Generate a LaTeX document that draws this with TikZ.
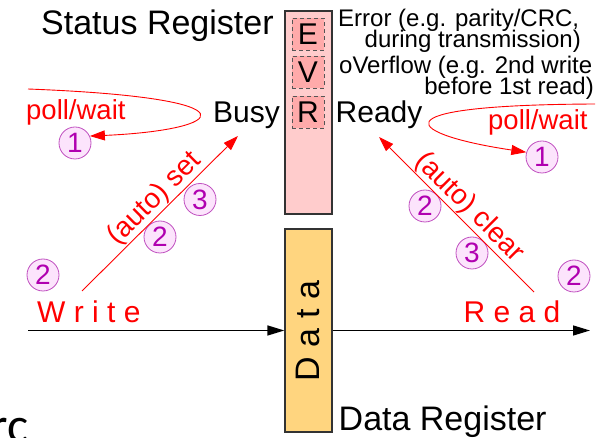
\documentclass[tikz,border=0pt]{standalone}
\usepackage{fontspec}
\setmainfont{Liberation Sans}
\newfontfamily\slidefont{Carlito}
\usetikzlibrary{arrows.meta}
\definecolor{regpink}{HTML}{FFCCCC}
\definecolor{bitpink}{HTML}{FFAAAA}
\definecolor{dataorange}{HTML}{FFD57F}
\definecolor{regline}{HTML}{333333}
\definecolor{bitline}{HTML}{555555}
\definecolor{numtext}{HTML}{B000B0}
\definecolor{numline}{HTML}{C050C0}
\definecolor{numfill}{HTML}{FCE4FC}
\begin{document}
\begin{tikzpicture}[x=1pt,y=-1pt,
  txt/.style={inner sep=0pt, font=\fontsize{30}{32}\selectfont},
  title/.style={inner sep=0pt, font=\fontsize{34}{36}\selectfont},
  note/.style={inner sep=0pt, font=\fontsize{24}{26}\selectfont},
  redtxt/.style={inner sep=0pt, text=red, font=\fontsize{27.5}{30}\selectfont},
  spaced/.style={inner sep=0pt, font=\fontsize{30}{32}\selectfont},
  lbl/.style={inner sep=0.5pt, text=red, font=\fontsize{28}{30}\selectfont},
  regbox/.style={draw=regline, line width=1.3pt, fill=regpink, minimum width=47pt, minimum height=203pt, inner sep=0pt},
  databox/.style={draw=regline, line width=1.3pt, fill=dataorange, minimum width=47pt, minimum height=203pt, inner sep=0pt},
  bitbox/.style={draw=bitline, dashed, dash pattern=on 4pt off 3pt, line width=0.9pt, fill=bitpink,
    minimum width=32pt, minimum height=32pt, inner sep=0pt, font=\fontsize{30}{32}\selectfont},
  numc/.style={circle, draw=numline, fill=numfill, text=numtext, line width=0.8pt,
    minimum size=32pt, inner sep=0pt, font=\fontsize{28}{30}\selectfont},
  redarrow/.style={draw=red, line width=0.9pt, -{Triangle[length=15pt,width=10pt]}},
  blkarrow/.style={draw=black, line width=1.4pt, -{Triangle[length=17pt,width=10pt]}}
]
\useasboundingbox (0,0) rectangle (606,438);

% registers
\node[regbox] (sreg) at (308.5,112.5) {};
\node[bitbox] (bitE) at (308,34) {E};
\node[bitbox] (bitV) at (308,72.5) {V};
\node[bitbox] (bitR) at (308,112.5) {R};
\node[databox] (dreg) at (308.5,330.5) {};
\node[inner sep=0pt, rotate=90, font=\fontsize{34}{36}\selectfont] (dtxt) at (308,331) {D a t a};

% titles and notes
\node[title, anchor=base west] (stitle) at (41,35) {Status Register};
\node[title, anchor=base west] (dtitle) at (338.5,431) {Data Register};
\node[note, anchor=base west] (err1) at (338,27) {Error (e.g. parity/CRC,};
\node[note, anchor=base east] (err2) at (581,48) {during transmission)};
\node[note, anchor=base west] (ovf1) at (339,74) {oVerflow (e.g. 2nd write};
\node[note, anchor=base east] (ovf2) at (594,95) {before 1st read)};
\node[txt, anchor=base west] (busy) at (213,123) {Busy};
\node[txt, anchor=base west] (ready) at (335.5,123) {Ready};

% step numbers
\node[numc] (c1L) at (75,143) {1};
\node[numc] (c3set) at (200,199.5) {3};
\node[numc] (c2set) at (160,237) {2};
\node[numc] (c2w) at (43,275) {2};
\node[numc] (c1R) at (542,157) {1};
\node[numc] (c2clr) at (425,206) {2};
\node[numc] (c3clr) at (472,253) {3};
\node[numc] (c2r) at (574,276) {2};

% polling loops
\coordinate (pollLstart) at (28,89);
\coordinate (pollRstart) at (595,104);
\draw[redarrow] (pollLstart) .. controls (262,98) and (228,130) .. (c1L.25);
\draw[redarrow] (pollRstart) .. controls (365,105) and (410,135) .. (c1R.163);
\node[redtxt, anchor=base west] (pollL) at (26,120) {poll/wait};
\node[redtxt, anchor=base west] (pollR) at (488,130) {poll/wait};

% automatic set / clear of the flags
\coordinate (setfrom) at (82,291);
\coordinate (setto) at (238,136);
\coordinate (clrfrom) at (534,292);
\coordinate (clrto) at (379,137);
\draw[redarrow] (setfrom) -- node[lbl, sloped, above, pos=0.53] {(auto) set} (setto);
\draw[redarrow] (clrfrom) -- node[lbl, sloped, above, pos=0.48] {(auto) clear} (clrto);

% data path
\node[spaced, text=red, anchor=base west] (write) at (37,323) {W r i t e};
\node[spaced, text=red, anchor=base west] (read) at (463.5,323) {R e a d};
\coordinate (datain) at (28,330.5);
\coordinate (dataout) at (590,330.5);
\draw[blkarrow] (datain) -- (dreg.west);
\draw[blkarrow] (dreg.east) -- (dataout);

% text running off the lower edge
\node[inner sep=0pt, anchor=base east, font=\slidefont\fontsize{50}{52}\selectfont] (rc) at (29,443) {rc};
\end{tikzpicture}
\end{document}
